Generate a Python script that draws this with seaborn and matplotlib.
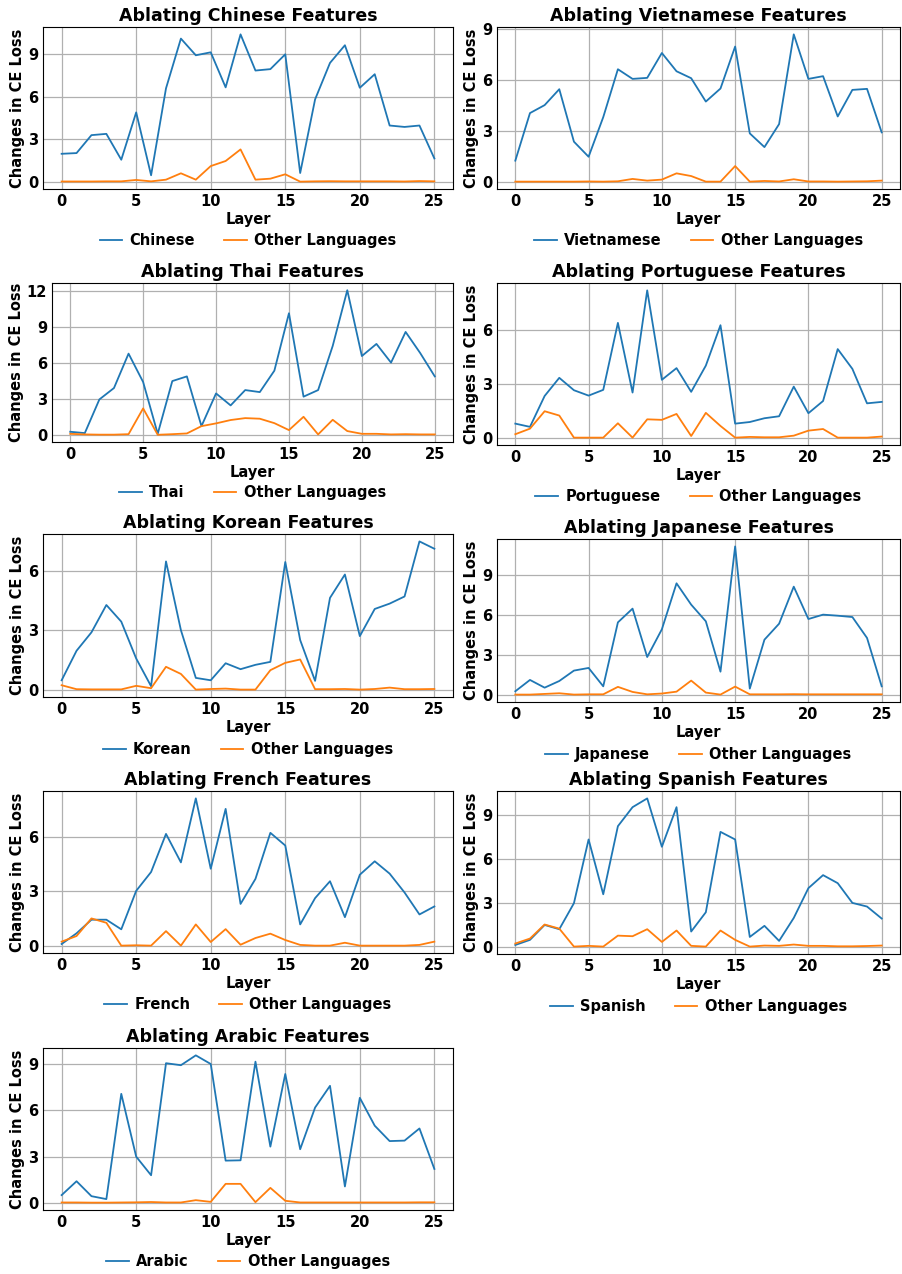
import matplotlib
matplotlib.use('Agg')
import matplotlib.pyplot as plt
from matplotlib.ticker import MultipleLocator
import seaborn as sns
import numpy as np
import pandas as pd

# Layer index for every series
layers = np.arange(26)

# CE loss change when ablating each language's features (target language)
chinese = [1.97, 2.02, 3.29, 3.38, 1.55, 4.90, 0.45, 6.60, 10.12, 8.94, 9.15, 6.67, 10.42,
           7.86, 7.96, 9.01, 0.61, 5.82, 8.40, 9.65, 6.64, 7.60, 3.97, 3.87, 3.97, 1.64]
chinese_other = [0.01, 0.01, 0.01, 0.02, 0.02, 0.12, 0.02, 0.14, 0.59, 0.14, 1.10, 1.46, 2.28,
                 0.14, 0.21, 0.52, 0.00, 0.02, 0.03, 0.02, 0.02, 0.02, 0.02, 0.01, 0.04, 0.02]

vietnamese = [1.24, 4.05, 4.52, 5.46, 2.36, 1.47, 3.81, 6.64, 6.07, 6.13, 7.60, 6.52, 6.11,
              4.73, 5.50, 7.98, 2.85, 2.04, 3.40, 8.70, 6.07, 6.23, 3.85, 5.42, 5.48, 2.91]
vietnamese_other = [0.00, 0.00, 0.00, 0.00, 0.00, 0.01, 0.00, 0.02, 0.16, 0.06, 0.12, 0.49, 0.33,
                    0.00, 0.00, 0.92, 0.00, 0.04, 0.01, 0.14, 0.01, 0.01, 0.00, 0.01, 0.02, 0.06]

thai = [0.25, 0.14, 2.95, 3.90, 6.77, 4.40, 0.08, 4.48, 4.87, 0.72, 3.45, 2.45, 3.73,
        3.56, 5.35, 10.14, 3.18, 3.73, 7.41, 12.06, 6.57, 7.58, 6.02, 8.58, 6.82, 4.87]
thai_other = [0.08, 0.03, 0.01, 0.01, 0.05, 2.20, 0.00, 0.05, 0.11, 0.72, 0.95, 1.23, 1.39,
              1.34, 0.97, 0.39, 1.50, 0.03, 1.25, 0.31, 0.08, 0.08, 0.03, 0.05, 0.03, 0.03]

portuguese = [0.78, 0.60, 2.32, 3.33, 2.64, 2.34, 2.66, 6.39, 2.51, 8.20, 3.22, 3.87, 2.55,
              4.01, 6.26, 0.78, 0.87, 1.08, 1.19, 2.84, 1.36, 2.04, 4.93, 3.83, 1.91, 1.99]
portuguese_other = [0.19, 0.50, 1.47, 1.23, 0.00, 0.00, 0.00, 0.80, 0.00, 1.02, 0.99, 1.32, 0.09,
                    1.38, 0.65, 0.00, 0.04, 0.02, 0.02, 0.11, 0.39, 0.48, 0.00, 0.00, 0.00, 0.06]

korean = [0.47, 1.96, 2.89, 4.27, 3.43, 1.57, 0.17, 6.47, 3.00, 0.59, 0.47, 1.33, 1.03,
          1.25, 1.40, 6.44, 2.50, 0.44, 4.63, 5.81, 2.70, 4.07, 4.34, 4.70, 7.48, 7.11]
korean_other = [0.22, 0.02, 0.01, 0.01, 0.01, 0.19, 0.07, 1.15, 0.79, 0.00, 0.03, 0.05, 0.00,
                0.00, 0.98, 1.35, 1.52, 0.02, 0.02, 0.03, 0.00, 0.03, 0.10, 0.02, 0.02, 0.03]

japanese = [0.25, 1.10, 0.52, 1.02, 1.80, 2.00, 0.62, 5.42, 6.45, 2.82, 4.90, 8.35, 6.75,
            5.50, 1.72, 11.12, 0.45, 4.12, 5.32, 8.10, 5.67, 6.00, 5.92, 5.82, 4.25, 0.62]
japanese_other = [0.00, 0.00, 0.05, 0.10, 0.00, 0.02, 0.02, 0.58, 0.20, 0.02, 0.08, 0.22, 1.05,
                  0.15, 0.00, 0.60, 0.02, 0.02, 0.02, 0.03, 0.02, 0.02, 0.02, 0.02, 0.02, 0.02]

french = [0.09, 0.68, 1.43, 1.43, 0.90, 3.02, 4.06, 6.16, 4.59, 8.12, 4.24, 7.54, 2.30,
          3.68, 6.22, 5.52, 1.17, 2.62, 3.55, 1.57, 3.91, 4.65, 3.97, 2.93, 1.72, 2.16]
french_other = [0.22, 0.53, 1.50, 1.26, 0.00, 0.02, 0.00, 0.80, 0.00, 1.17, 0.20, 0.91, 0.05,
                0.42, 0.66, 0.31, 0.04, 0.00, 0.00, 0.16, 0.00, 0.00, 0.00, 0.00, 0.04, 0.22]

spanish = [0.11, 0.46, 1.48, 1.19, 2.97, 7.33, 3.58, 8.24, 9.54, 10.14, 6.83, 9.54, 1.03,
           2.35, 7.85, 7.33, 0.66, 1.42, 0.39, 1.96, 4.00, 4.89, 4.34, 2.99, 2.74, 1.92]
spanish_other = [0.21, 0.55, 1.51, 1.23, 0.00, 0.05, 0.00, 0.75, 0.71, 1.19, 0.32, 1.10, 0.05,
                 0.00, 1.10, 0.46, 0.00, 0.07, 0.05, 0.14, 0.05, 0.05, 0.02, 0.02, 0.04, 0.07]

arabic = [0.50, 1.40, 0.43, 0.24, 7.08, 3.00, 1.79, 9.07, 8.94, 9.58, 9.02, 2.74, 2.76,
          9.17, 3.65, 8.37, 3.48, 6.19, 7.60, 1.06, 6.82, 5.01, 4.01, 4.04, 4.83, 2.20]
arabic_other = [0.02, 0.02, 0.01, 0.01, 0.02, 0.03, 0.05, 0.02, 0.02, 0.17, 0.06, 1.23, 1.23,
                0.04, 0.97, 0.13, 0.02, 0.02, 0.02, 0.02, 0.02, 0.02, 0.02, 0.02, 0.03, 0.03]

panels = [
    ('Chinese', chinese, chinese_other),
    ('Vietnamese', vietnamese, vietnamese_other),
    ('Thai', thai, thai_other),
    ('Portuguese', portuguese, portuguese_other),
    ('Korean', korean, korean_other),
    ('Japanese', japanese, japanese_other),
    ('French', french, french_other),
    ('Spanish', spanish, spanish_other),
    ('Arabic', arabic, arabic_other),
]

# axes boxes in pixels (left, right, top, bottom), as laid out in the original
W, H = 902, 1274
boxes = [
    (43, 453, 27, 189), (497, 900, 27, 189),
    (52, 453, 283, 442), (497, 900, 283, 445),
    (43, 453, 534, 697), (497, 900, 539, 702),
    (43, 453, 791, 953), (497, 900, 791, 954),
    (43, 453, 1048, 1210),
]

plt.rcParams['font.family'] = ['DejaVu Sans']
plt.rcParams['font.size'] = 10.5
plt.rcParams['font.weight'] = 'bold'
plt.rcParams['axes.labelweight'] = 'bold'
plt.rcParams['axes.titleweight'] = 'bold'
plt.rcParams['xtick.major.size'] = 0
plt.rcParams['ytick.major.size'] = 0

fig = plt.figure(figsize=(W / 100, H / 100), dpi=100)

for (lang, target, other), (l, r, t, b) in zip(panels, boxes):
    ax = fig.add_axes([l / W, 1 - b / H, (r - l) / W, (b - t) / H])
    df = pd.DataFrame({
        'Layer': np.concatenate([layers, layers]),
        'Changes in CE Loss': np.concatenate([target, other]),
        'Series': [lang] * len(layers) + ['Other Languages'] * len(layers),
    })
    sns.lineplot(data=df, x='Layer', y='Changes in CE Loss', hue='Series',
                 palette=['#1f77b4', '#ff7f0e'], linewidth=1.3, ax=ax)
    ax.set_title(f'Ablating {lang} Features', fontsize=12.5, fontweight='bold', pad=4)
    ax.set_xlabel('Layer', fontweight='bold', labelpad=2)
    ax.set_ylabel('Changes in CE Loss', fontweight='bold', labelpad=2)
    ax.yaxis.set_major_locator(MultipleLocator(3))
    ax.grid(True, color='#b0b0b0', linewidth=0.9)
    sns.move_legend(ax, 'center', bbox_to_anchor=(0.5, -0.32), ncol=2, frameon=False,
                    title=None, handlelength=1.55, handletextpad=0.5, columnspacing=2.0)

plt.savefig('out.png', dpi=100)
